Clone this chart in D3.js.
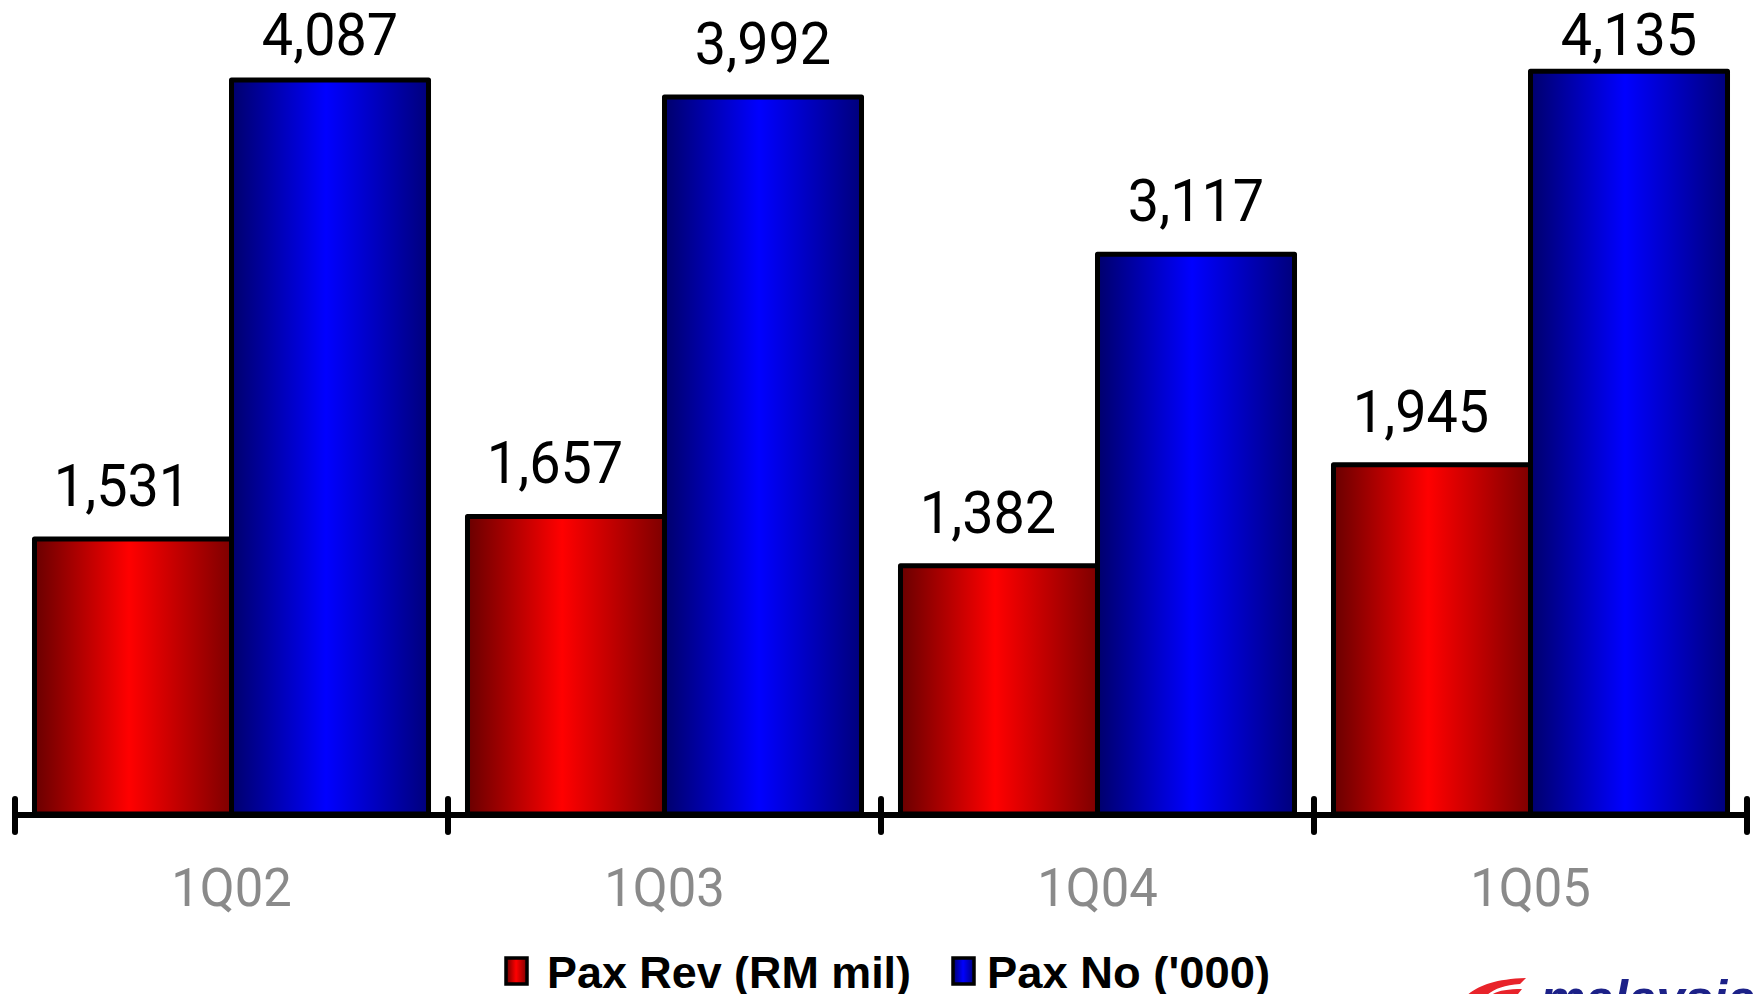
<!DOCTYPE html>
<html>
<head>
<meta charset="utf-8">
<script src="https://cdn.jsdelivr.net/npm/d3@7"></script>
<style>
  html, body { margin: 0; padding: 0; background: #ffffff; overflow: hidden; }
  svg { display: block; }
</style>
</head>
<body>
<svg id="chart" width="1760" height="994"></svg>
<script>
// Quarterly passenger figures
const categories = ["1Q02", "1Q03", "1Q04", "1Q05"];
const paxRevenue = [1531, 1657, 1382, 1945];   // RM mil
const paxNumber  = [4087, 3992, 3117, 4135];   // '000
const seriesNames = ["Pax Rev (RM mil)", "Pax No ('000)"];
const seriesKeys = ["rev", "num"];

const W = 1760, H = 994;
const baseY = 814;
const svg = d3.select("#chart");

// Gradients: dark edges, bright centre
const defs = svg.append("defs");
function grad(id, edgeL, mid, edgeR) {
  const g = defs.append("linearGradient").attr("id", id)
    .attr("x1", "0").attr("x2", "1").attr("y1", "0").attr("y2", "0");
  g.append("stop").attr("offset", "0").attr("stop-color", edgeL);
  g.append("stop").attr("offset", "0.48").attr("stop-color", mid);
  g.append("stop").attr("offset", "1").attr("stop-color", edgeR);
}
grad("g-rev", "#690000", "#ff0000", "#7e0000");
grad("g-num", "#00006c", "#0000ff", "#00007c");
const fills = { rev: "url(#g-rev)", num: "url(#g-num)" };
// revenue labels sit slightly left of their bar centre
const labelShift = { rev: -11, num: 0 };

const x0 = d3.scaleBand().domain(categories).range([15, 1747])
  .paddingInner(0.09).paddingOuter(0.045);
const x1 = d3.scaleBand().domain(seriesKeys).range([0, x0.bandwidth()]);
const y = d3.scaleLinear().domain([0, 4532]).range([baseY, 0]);

const rows = categories.map((c, i) => ({
  cat: c,
  vals: [{ key: "rev", v: paxRevenue[i] }, { key: "num", v: paxNumber[i] }]
}));

const groups = svg.append("g").selectAll("g").data(rows).join("g")
  .attr("transform", d => `translate(${x0(d.cat)},0)`);

groups.selectAll("rect").data(d => d.vals).join("rect")
  .attr("x", d => x1(d.key))
  .attr("y", d => y(d.v))
  .attr("width", x1.bandwidth())
  .attr("height", d => baseY - y(d.v))
  .attr("fill", d => fills[d.key])
  .attr("stroke", "#000")
  .attr("stroke-width", 5)
  .attr("stroke-linejoin", "round");

// Value labels above each bar
const fmt = d3.format(",");
groups.selectAll("text.val").data(d => d.vals).join("text")
  .attr("class", "val")
  .attr("transform", d => `translate(${x1(d.key) + x1.bandwidth() / 2 + labelShift[d.key]},${Math.max(y(d.v) - 33, 55)}) scale(0.93,1)`)
  .attr("text-anchor", "middle")
  .attr("font-family", "Roboto, 'Liberation Sans', sans-serif")
  .attr("font-size", 60)
  .attr("fill", "#000")
  .text(d => fmt(d.v));

// Category axis with ticks at group boundaries
const axisG = svg.append("g");
const step = x0.step();
const start = x0.range()[0];
axisG.append("line")
  .attr("x1", start).attr("x2", x0.range()[1])
  .attr("y1", baseY + 1).attr("y2", baseY + 1)
  .attr("stroke", "#000").attr("stroke-width", 6);
axisG.selectAll("line.tick").data(d3.range(categories.length + 1)).join("line")
  .attr("class", "tick")
  .attr("x1", i => start + i * step).attr("x2", i => start + i * step)
  .attr("y1", baseY - 15).attr("y2", baseY + 18)
  .attr("stroke", "#000").attr("stroke-width", 6).attr("stroke-linecap", "round");
axisG.selectAll("text").data(categories).join("text")
  .attr("transform", c => `translate(${x0(c) + x0.bandwidth() / 2},906) scale(0.94,1)`)
  .attr("text-anchor", "middle")
  .attr("font-family", "Roboto, 'Noto Sans', sans-serif")
  .attr("font-size", 54)
  .attr("fill", "#8a8a8a")
  .text(c => c);

// Legend
const legend = svg.append("g");
const legendItems = [
  { key: "rev", name: seriesNames[0], x: 506, w: 364 },
  { key: "num", name: seriesNames[1], x: 953, w: 283 }
];
legendItems.forEach(it => {
  legend.append("rect")
    .attr("x", it.x).attr("y", 958).attr("width", 21).attr("height", 26)
    .attr("fill", fills[it.key]).attr("stroke", "#000").attr("stroke-width", 3.5);
  legend.append("text")
    .attr("x", it.x + (it.key === "rev" ? 41 : 34)).attr("y", 988)
    .attr("font-family", "'Liberation Sans', Arial, sans-serif")
    .attr("font-weight", "bold")
    .attr("font-size", 44)
    .attr("textLength", it.w)
    .attr("lengthAdjust", "spacingAndGlyphs")
    .attr("fill", "#000")
    .text(it.name);
});

// Airline wordmark, cut off by the bottom edge
const logo = svg.append("g");
logo.append("path")
  .attr("d", "M1466,996 C1478,986 1494,979 1526,978 L1520,984 C1503,985 1492,990 1486,996 Z")
  .attr("fill", "#e8232a");
logo.append("path")
  .attr("d", "M1490,996 C1496,991 1506,989 1522,989 L1518,994 C1508,994 1502,995 1500,996 Z")
  .attr("fill", "#e8232a");
logo.append("text")
  .attr("x", 1540).attr("y", 1017)
  .attr("font-family", "'Liberation Sans', Arial, sans-serif")
  .attr("font-weight", "bold").attr("font-style", "italic")
  .attr("font-size", 51)
  .attr("fill", "#1c2188")
  .text("malaysia");
</script>
</body>
</html>
